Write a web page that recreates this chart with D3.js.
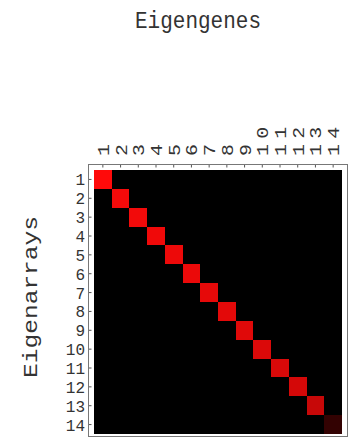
<!DOCTYPE html>
<html>
<head>
<meta charset="utf-8">
<script src="https://cdn.jsdelivr.net/npm/d3@7"></script>
<style>
  body { margin: 0; background: #fff; }
  text { font-family: "Courier New", Courier, "Liberation Mono", monospace; fill: #333; }
</style>
</head>
<body>
<div id="chart"></div>
<script>
/* Data */
let genes = d3.range(1, 15);        // eigengenes (columns)
let arrays = d3.range(1, 15);       // eigenarrays (rows)
// diagonal intensity (fraction of full red)
let diagonal = [1.0, 0.96, 0.95, 0.94, 0.93, 0.92, 0.9, 0.89, 0.88, 0.86, 0.85, 0.83, 0.78, 0.2];

let width = 355, height = 437;
let stretch = 1.17;

let svg = d3.select('#chart')
  .append('svg')
  .attr('width', width)
  .attr('height', height);

let x = d3.scaleBand().domain(genes).range([94, 342]);
let y = d3.scaleBand().domain(arrays).range([170, 434]);

let color = d3.scaleLinear().domain([0, 1]).range(['#000000', '#ff0a0a']);

let cells = [];
arrays.forEach((r, i) => {
  genes.forEach((c, j) => {
    cells.push({ row: r, col: c, value: i === j ? diagonal[i] : 0 });
  });
});

// frame
svg.append('rect')
  .attr('x', 88.5).attr('y', 164.5)
  .attr('width', 259).attr('height', 272)
  .attr('fill', 'none')
  .attr('stroke', '#777')
  .attr('stroke-width', 1);

// matrix background
svg.append('rect')
  .attr('x', x.range()[0]).attr('y', y.range()[0])
  .attr('width', x.range()[1] - x.range()[0])
  .attr('height', y.range()[1] - y.range()[0])
  .attr('fill', color(0));

svg.append('g')
  .attr('shape-rendering', 'crispEdges')
  .selectAll('rect')
  .data(cells)
  .enter().append('rect')
  .attr('x', d => x(d.col))
  .attr('y', d => y(d.row))
  .attr('width', x.bandwidth())
  .attr('height', y.bandwidth())
  .attr('fill', d => color(d.value));

// ticks
svg.append('g')
  .selectAll('line')
  .data(genes)
  .enter().append('line')
  .attr('x1', d => x(d) + x.bandwidth() / 2)
  .attr('x2', d => x(d) + x.bandwidth() / 2)
  .attr('y1', 165).attr('y2', 167.5)
  .attr('stroke', '#555');

svg.append('g')
  .selectAll('line')
  .data(arrays)
  .enter().append('line')
  .attr('y1', d => y(d) + y.bandwidth() / 2)
  .attr('y2', d => y(d) + y.bandwidth() / 2)
  .attr('x1', 89).attr('x2', 91.5)
  .attr('stroke', '#555');

// column labels (rotated)
svg.append('g')
  .selectAll('text')
  .data(genes)
  .enter().append('text')
  .attr('transform', d => 'translate(' + (x(d) + x.bandwidth() / 2 + 6) + ',156) scale(1,' + stretch + ') rotate(-90)')
  .style('font-size', '17px')
  .style('letter-spacing', '4.5px')
  .text(d => d);

// row labels
svg.append('g')
  .selectAll('text')
  .data(arrays)
  .enter().append('text')
  .attr('transform', d => 'translate(85,' + (y(d) + y.bandwidth() / 2) + ') scale(1,1.03)')
  .attr('text-anchor', 'end')
  .attr('dy', '0.36em')
  .style('font-size', '16px')
  .text(d => d);

// title
svg.append('text')
  .attr('transform', 'translate(198,28) scale(1,' + stretch + ')')
  .attr('text-anchor', 'middle')
  .style('font-size', '21px')
  .text('Eigengenes');

// y-axis title
svg.append('text')
  .attr('transform', 'translate(37,297) scale(1,' + stretch + ') rotate(-90)')
  .attr('text-anchor', 'middle')
  .style('font-size', '21px')
  .text('Eigenarrays');
</script>
</body>
</html>
